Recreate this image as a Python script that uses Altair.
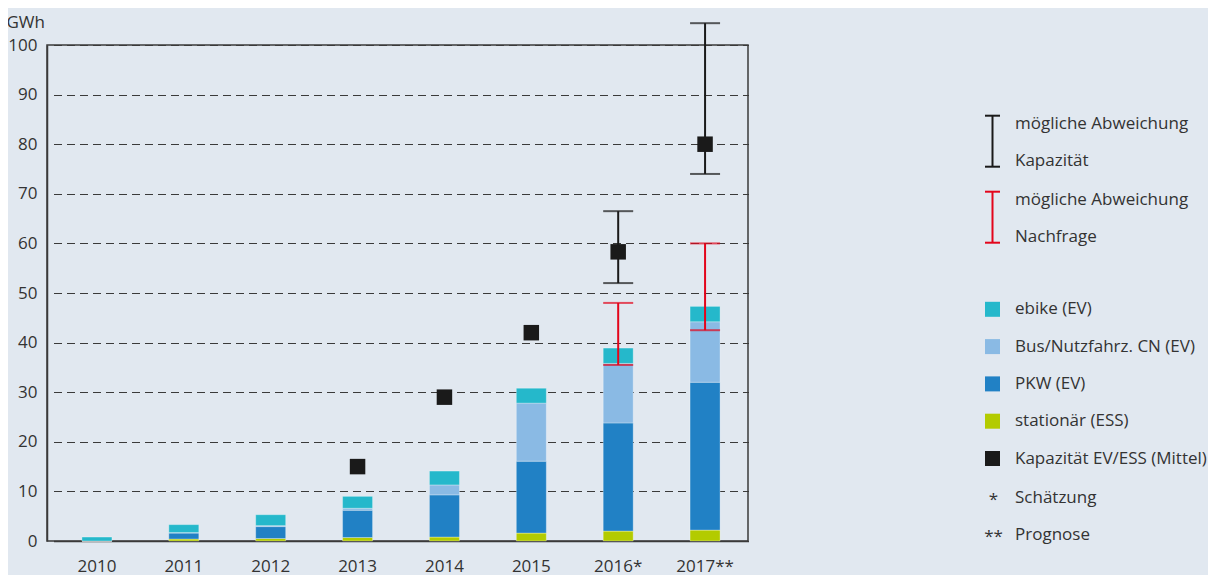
import altair as alt
import pandas as pd

# ---------------- data ----------------
years = ["2010", "2011", "2012", "2013", "2014", "2015", "2016*", "2017**"]
seg_names = ["stationär (ESS)", "PKW (EV)", "Bus/Nutzfahrz. CN (EV)", "ebike (EV)"]
seg_colors = ["#b3cb00", "#2181c5", "#8abae4", "#25b8cb"]
stationaer = [0.0, 0.4, 0.5, 0.7, 0.8, 1.6, 2.0, 2.2]
pkw = [0.0, 1.2, 2.4, 5.5, 8.5, 14.5, 21.8, 29.8]
bus = [0.0, 0.1, 0.2, 0.4, 2.0, 11.7, 12.0, 12.2]
ebike = [0.8, 1.6, 2.2, 2.4, 2.8, 3.0, 3.1, 3.1]

kap_years = ["2013", "2014", "2015", "2016*", "2017**"]
kap_mittel = [15.0, 29.0, 42.0, 58.3, 80.0]

kap_err_years = ["2016*", "2017**"]
kap_lo = [52.0, 74.0]
kap_hi = [66.5, 104.4]

nach_err_years = ["2016*", "2017**"]
nach_lo = [35.5, 42.5]
nach_hi = [48.0, 60.0]

y_ticks = [0, 10, 20, 30, 40, 50, 60, 70, 80, 90, 100]
y_unit = "GWh"

legend_err = [("mögliche Abweichung", "Kapazität", "#1a1a1a"),
              ("mögliche Abweichung", "Nachfrage", "#e3051b")]
legend_squares = seg_names[::-1] + ["Kapazität EV/ESS (Mittel)"]
legend_square_colors = seg_colors[::-1] + ["#1a1a1a"]
legend_notes = [("*", "Schätzung"), ("**", "Prognose")]

# ---------------- styling ----------------
FONT = "Open Sans"
TXT = "#333333"
LINE = "#3a3a3a"
BG = "#e1e8f0"
W, H = 701, 496

seg_vals = [stationaer, pkw, bus, ebike]
rows = []
for i, yr in enumerate(years):
    for k, name in enumerate(seg_names):
        rows.append({"Jahr": yr, "Segment": name, "Wert": seg_vals[k][i], "o": k})
df = pd.DataFrame(rows)

df_kap = pd.DataFrame({"Jahr": kap_years, "Wert": kap_mittel})
df_kerr = pd.DataFrame({"Jahr": kap_err_years, "lo": kap_lo, "hi": kap_hi})
df_nerr = pd.DataFrame({"Jahr": nach_err_years, "lo": nach_lo, "hi": nach_hi})

xscale = alt.Scale(domain=years, range=[6.5, 701.5], paddingInner=0, paddingOuter=0)
yscale = alt.Scale(domain=[0, 100], nice=False)

x_axis = alt.Axis(title=None, labelAngle=0, ticks=False, labelPadding=17,
                  labelFontSize=17, labelColor=TXT, labelFont=FONT,
                  domainColor=LINE, domainWidth=1.5, grid=False)
y_axis = alt.Axis(values=y_ticks, title=y_unit, titleAngle=0, titleAlign="left",
                  titleBaseline="alphabetic", titleX=-41, titleY=-18,
                  titleFontSize=17, titleFontWeight="normal", titleColor=TXT, titleFont=FONT,
                  ticks=False, labelPadding=10, labelFontSize=17, labelColor=TXT,
                  labelFont=FONT, domainColor=LINE, domainWidth=1.5,
                  grid=True, gridDash=[8, 5], gridColor=LINE, gridWidth=1)


def X():
    return alt.X("Jahr:N", scale=xscale, sort=years, axis=x_axis)


def Y(field, **kw):
    return alt.Y(field, scale=yscale, axis=y_axis, **kw)


bars = alt.Chart(df).mark_bar(size=30, stroke="white", strokeOpacity=0.3, strokeWidth=1).encode(
    x=X(),
    y=Y("Wert:Q", stack="zero"),
    color=alt.Color("Segment:N", scale=alt.Scale(domain=seg_names, range=seg_colors), legend=None),
    order=alt.Order("o:Q"),
)


def errbar(d, color):
    base = alt.Chart(d)
    rule = base.mark_rule(color=color, strokeWidth=2).encode(x=X(), y=Y("lo:Q"), y2="hi:Q")
    lo = base.mark_tick(color=color, size=30, thickness=2).encode(x=X(), y=Y("lo:Q"))
    hi = base.mark_tick(color=color, size=30, thickness=2).encode(x=X(), y=Y("hi:Q"))
    return [rule, lo, hi]


squares = alt.Chart(df_kap).mark_square(size=240, color="#1a1a1a", opacity=1).encode(
    x=X(), y=Y("Wert:Q"))

# ---------------- legend (drawn to the right of the plot) ----------------
one = pd.DataFrame({"a": [0]})
OX, OY = 47, 45  # plot origin on the page
LX_SYM = 992.5 - OX
LX_TXT = 1015 - OX


def txt(label, x, y, align="left"):
    return alt.Chart(pd.DataFrame({"t": [label]})).mark_text(
        align=align, baseline="middle", fontSize=17, font=FONT, color=TXT).encode(
        x=alt.value(x), y=alt.value(y), text="t:N")


legend_layers = []
err_top = [115.7, 191.7]
for (l1, l2, col), top in zip(legend_err, err_top):
    t, b = top - OY, top + 51 - OY
    legend_layers.append(alt.Chart(one).mark_rule(color=col, strokeWidth=2).encode(
        x=alt.value(LX_SYM), y=alt.value(t), y2=alt.value(b)))
    for yy in (t, b):
        legend_layers.append(alt.Chart(one).mark_rule(color=col, strokeWidth=2).encode(
            x=alt.value(LX_SYM - 7.5), x2=alt.value(LX_SYM + 7.5), y=alt.value(yy)))
    legend_layers.append(txt(l1, LX_TXT, top + 8.5 - OY))
    legend_layers.append(txt(l2, LX_TXT, top + 45.5 - OY))

sq_y0 = 309.3
for i, (lab, col) in enumerate(zip(legend_squares, legend_square_colors)):
    yy = sq_y0 + i * 37.3 - OY
    legend_layers.append(alt.Chart(one).mark_square(size=225, color=col, opacity=1).encode(
        x=alt.value(LX_SYM), y=alt.value(yy)))
    legend_layers.append(txt(lab, LX_TXT, yy))

for i, (sym, lab) in enumerate(legend_notes):
    yy = 498 + i * 37.3 - OY
    legend_layers.append(txt(sym, LX_SYM + 1, yy + 2, align="center"))
    legend_layers.append(txt(lab, LX_TXT, yy))

chart = alt.layer(
    bars, *errbar(df_nerr, "#e3051b"), *errbar(df_kerr, "#1a1a1a"), squares, *legend_layers
).properties(
    width=W, height=H,
    autosize=alt.AutoSizeParams(type="none"),
    padding={"left": 39, "top": 37, "right": 1200 - 39 - W, "bottom": 567 - 37 - H},
    background=BG,
).configure_view(stroke=LINE, strokeWidth=1.5)

chart.save("out.html", embed_options={"renderer": "svg", "actions": False})
